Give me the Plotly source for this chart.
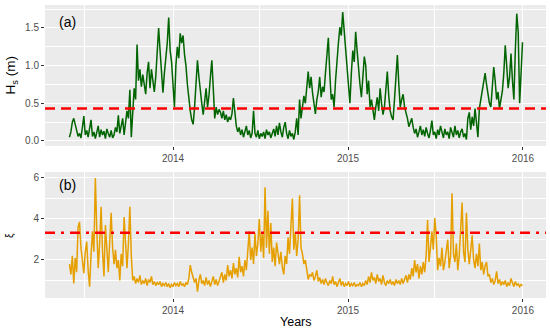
import pandas as pd
import plotly.graph_objects as go
from plotly.subplots import make_subplots

start_date = "2013-05-30"
step = "3D"

hs_values = [
    0.05, 0.12, 0.25, 0.30, 0.22, 0.12, 0.06, 0.10, 0.04, 0.18,
    0.33, 0.08, 0.14, 0.05, 0.20, 0.28, 0.06, 0.12, 0.03, 0.10,
    0.20, 0.05, 0.15, 0.08, 0.13, 0.03, 0.16, 0.10, 0.05, 0.14,
    0.04, 0.08, 0.18, 0.12, 0.34, 0.10, 0.20, 0.30, 0.08, 0.25,
    0.40, 0.30, 0.68, 0.05, 0.45, 0.70, 0.55, 1.28, 0.80, 0.95,
    0.72, 0.88, 0.75, 0.62, 0.90, 1.05, 0.70, 0.95, 0.80, 0.65,
    0.85, 1.15, 1.50, 1.20, 0.85, 0.64, 0.90, 1.10, 1.30, 1.64,
    1.20, 1.05, 0.75, 0.45, 1.00, 1.25, 1.10, 1.43, 1.30, 1.40,
    1.15, 1.00, 0.75, 0.55, 0.40, 0.28, 0.22, 0.45, 0.80, 1.07,
    0.85, 0.62, 0.50, 0.35, 0.55, 0.70, 0.45, 0.60, 0.85, 1.07,
    0.70, 0.30, 0.45, 0.35, 0.42, 0.38, 0.30, 0.40, 0.28, 0.35,
    0.25, 0.32, 0.28, 0.36, 0.57, 0.40, 0.20, 0.12, 0.18, 0.08,
    0.15, 0.05, 0.12, 0.20, 0.08, 0.14, 0.04, 0.10, 0.40, 0.10,
    0.05, 0.14, 0.03, 0.10, 0.06, 0.12, 0.03, 0.15, 0.08, 0.12,
    0.04, 0.10, 0.16, 0.06, 0.20, 0.08, 0.24, 0.12, 0.05, 0.18,
    0.25, 0.10, 0.03, 0.14, 0.06, 0.10, 0.02, 0.12, 0.30, 0.08,
    0.55, 0.30, 0.45, 0.60, 0.50, 0.75, 0.92, 0.70, 0.85, 0.64,
    0.50, 0.36, 0.55, 0.65, 0.85, 0.58, 0.72, 0.65, 0.90, 1.10,
    1.37, 0.90, 0.55, 0.62, 0.45, 0.80, 1.12, 1.30, 1.51, 1.40,
    1.71, 1.45, 1.25, 0.98, 0.75, 0.50, 0.90, 1.20, 1.05, 1.45,
    1.20, 0.92, 0.75, 0.58, 0.85, 1.12, 1.00, 0.62, 0.80, 0.45,
    0.55, 0.40, 0.28, 0.45, 0.58, 0.40, 0.70, 0.50, 0.35, 0.45,
    0.70, 0.92, 0.60, 0.40, 0.32, 0.28, 0.55, 0.90, 1.14, 0.75,
    0.45, 0.55, 0.62, 0.45, 0.38, 0.30, 0.19, 0.25, 0.30, 0.18,
    0.10, 0.16, 0.05, 0.12, 0.20, 0.08, 0.15, 0.06, 0.18, 0.10,
    0.04, 0.14, 0.27, 0.08, 0.12, 0.03, 0.15, 0.08, 0.20, 0.12,
    0.04, 0.16, 0.08, 0.12, 0.03, 0.18, 0.10, 0.05, 0.20, 0.08,
    0.14, 0.04, 0.12, 0.16, 0.05, 0.10, 0.02, 0.30, 0.38, 0.15,
    0.32, 0.20, 0.43, 0.25, 0.05, 0.43, 0.55, 0.65, 0.80, 0.90,
    0.75, 0.64, 0.50, 0.45, 0.70, 0.98, 0.80, 0.55, 0.65, 0.43,
    0.55, 0.66, 0.90, 1.27, 1.00, 0.70, 0.85, 1.16, 0.80, 0.55,
    1.20, 1.69, 1.45, 0.50, 0.90, 1.31,
]

xi_values = [
    1.80, 1.30, 2.20, 0.85, 2.10, 1.40, 3.60, 3.85, 2.60, 1.90,
    1.35, 2.40, 2.90, 1.50, 0.70, 2.20, 3.40, 2.40, 6.00, 3.50,
    1.60, 2.80, 4.60, 2.40, 1.20, 3.70, 2.30, 1.40, 2.90, 4.30,
    2.60, 1.80, 2.50, 1.60, 2.00, 1.00, 2.30, 1.70, 4.10, 2.50,
    1.60, 2.80, 4.60, 2.20, 1.00, 1.20, 0.85, 1.10, 0.90, 1.25,
    0.80, 1.00, 0.85, 1.10, 0.75, 1.05, 0.90, 1.20, 0.80, 0.95,
    0.75, 0.90, 0.80, 0.95, 0.70, 0.85, 0.75, 0.90, 0.70, 0.85,
    0.65, 0.80, 0.70, 0.90, 0.75, 0.85, 0.70, 0.95, 0.75, 0.85,
    0.70, 0.90, 0.80, 1.10, 1.75, 1.40, 1.20, 0.90, 1.10, 0.45,
    1.00, 1.30, 0.85, 1.00, 0.75, 1.15, 0.80, 1.00, 0.70, 0.95,
    1.20, 0.80, 1.05, 0.75, 0.95, 1.10, 1.40, 0.90, 1.30, 1.00,
    1.75, 1.20, 1.50, 1.10, 1.85, 1.30, 1.60, 1.15, 2.15, 1.40,
    1.70, 1.20, 2.00, 1.50, 2.40, 3.40, 2.00, 2.60, 1.80, 3.30,
    2.20, 2.80, 4.00, 2.40, 3.30, 2.10, 5.55, 2.60, 4.40, 2.30,
    3.80, 1.90, 2.60, 1.70, 2.85, 2.20, 1.80, 2.40, 1.65, 1.30,
    2.20, 1.80, 3.10, 2.30, 3.90, 5.00, 2.50, 3.35, 2.20, 3.00,
    5.15, 2.60, 2.30, 1.80, 2.00, 1.50, 1.05, 1.30, 1.20, 1.40,
    1.00, 1.20, 1.50, 0.95, 1.15, 0.85, 1.05, 0.80, 1.10, 0.90,
    0.75, 1.00, 0.85, 1.20, 0.80, 0.95, 0.70, 0.90, 1.10, 0.75,
    0.95, 0.70, 0.85, 0.75, 0.95, 0.70, 0.85, 0.75, 0.90, 0.70,
    0.80, 0.75, 0.90, 0.70, 0.85, 0.75, 1.00, 0.80, 1.20, 0.90,
    1.40, 1.00, 1.15, 0.85, 1.30, 0.95, 1.10, 0.80, 1.25, 0.90,
    0.75, 1.00, 0.85, 1.05, 0.80, 0.95, 0.75, 1.05, 0.85, 1.00,
    0.80, 1.10, 0.85, 1.05, 1.25, 0.90, 1.30, 1.05, 1.60, 1.20,
    2.00, 1.40, 1.80, 1.10, 1.70, 1.30, 1.90, 1.40, 2.20, 3.95,
    1.90, 2.60, 3.40, 2.50, 4.05, 3.20, 1.50, 2.10, 1.70, 2.60,
    1.50, 1.90, 2.40, 3.00, 1.60, 2.20, 5.25, 2.30, 1.90, 2.80,
    1.50, 2.20, 3.50, 4.80, 2.40, 1.90, 4.30, 2.50, 1.80, 2.40,
    3.20, 2.00, 1.60, 2.30, 1.70, 2.80, 1.50, 1.90, 1.30, 1.70,
    1.90, 1.20, 1.30, 0.90, 1.10, 0.80, 1.00, 1.45, 0.85, 1.05,
    0.75, 0.95, 0.80, 1.00, 0.70, 0.90, 0.75, 1.10, 0.85, 0.70,
    0.95, 0.75, 0.85, 0.70, 0.80, 0.75,
]

hs_threshold = 0.43
xi_threshold = 3.33

year_ticks = ["2014-01-01", "2015-01-01", "2016-01-01"]
year_labels = ["2014", "2015", "2016"]

dates = pd.date_range(start_date, periods=len(hs_values), freq=step)

fig = make_subplots(rows=2, cols=1, shared_xaxes=False, vertical_spacing=0.089)

fig.add_trace(go.Scatter(x=dates, y=hs_values, mode="lines",
                         line=dict(color="#006400", width=1.5), showlegend=False),
              row=1, col=1)
fig.add_trace(go.Scatter(x=dates, y=xi_values, mode="lines",
                         line=dict(color="#E69F00", width=1.5), showlegend=False),
              row=2, col=1)

fig.add_shape(type="line", xref="x domain", yref="y", x0=0, x1=1,
              y0=hs_threshold, y1=hs_threshold,
              line=dict(color="#FF0000", width=2.5, dash="10px,6px"))
fig.add_shape(type="line", xref="x2 domain", yref="y2", x0=0, x1=1,
              y0=xi_threshold, y1=xi_threshold,
              line=dict(color="#FF0000", width=2.5, dash="10px,6px,3px,6px"))

xrange = ["2013-04-09", "2016-02-18"]
font_family = "Liberation Sans, Arial, sans-serif"

for r in (1, 2):
    fig.update_xaxes(row=r, col=1, range=xrange, tickvals=year_ticks, ticktext=year_labels,
                     showgrid=True, gridcolor="white", gridwidth=1.1,
                     minor=dict(showgrid=True, gridcolor="white", gridwidth=0.5,
                                tickvals=["2013-07-01", "2014-07-01", "2015-07-01"]),
                     ticks="outside", ticklen=3, tickcolor="#333333", tickwidth=1,
                     tickfont=dict(size=10, color="#4D4D4D", family=font_family),
                     zeroline=False, showline=False)

fig.update_yaxes(row=1, col=1, range=[-0.066, 1.805], tickvals=[0, 0.5, 1.0, 1.5],
                 ticktext=["0.0", "0.5", "1.0", "1.5"],
                 minor=dict(showgrid=True, gridcolor="white", gridwidth=0.5,
                            tickvals=[0.25, 0.75, 1.25, 1.75]))
fig.update_yaxes(row=2, col=1, range=[0.146, 6.29], tickvals=[2, 4, 6],
                 ticktext=["2", "4", "6"],
                 minor=dict(showgrid=True, gridcolor="white", gridwidth=0.5,
                            tickvals=[1, 3, 5]))
for r in (1, 2):
    fig.update_yaxes(row=r, col=1, showgrid=True, gridcolor="white", gridwidth=1.1,
                     ticks="outside", ticklen=3, tickcolor="#333333", tickwidth=1,
                     tickfont=dict(size=10, color="#4D4D4D", family=font_family),
                     zeroline=False, showline=False)

fig.update_layout(
    width=550, height=331,
    margin=dict(l=45, r=4, t=5, b=33),
    plot_bgcolor="#EBEBEB", paper_bgcolor="white",
    font=dict(family=font_family, color="black"),
)
fig.update_yaxes(domain=[0.519, 1.0], row=1, col=1)
fig.update_yaxes(domain=[0.0, 0.430], row=2, col=1)

annotations = [
    dict(text="(a)", x=0.044, y=0.942, xref="paper", yref="paper",
         showarrow=False, font=dict(size=14, color="black"), xanchor="center", yanchor="middle"),
    dict(text="(b)", x=0.044, y=0.386, xref="paper", yref="paper",
         showarrow=False, font=dict(size=14, color="black"), xanchor="center", yanchor="middle"),
    dict(text="H<sub>s</sub> (m)", x=-0.066, y=0.759, xref="paper", yref="paper",
         showarrow=False, textangle=-90, font=dict(size=13.5, color="black"),
         xanchor="center", yanchor="middle"),
    dict(text="ξ", x=-0.07, y=0.215, xref="paper", yref="paper",
         showarrow=False, textangle=-90, font=dict(size=10, color="black"),
         xanchor="center", yanchor="middle"),
    dict(text="Years", x=0.5, y=-0.082, xref="paper", yref="paper",
         showarrow=False, font=dict(size=12.5, color="black"),
         xanchor="center", yanchor="middle"),
]
fig.update_layout(annotations=annotations)

fig.write_html("out.html", config={"displayModeBar": False},
               post_script="document.body.style.margin='0';document.body.style.padding='0';")
